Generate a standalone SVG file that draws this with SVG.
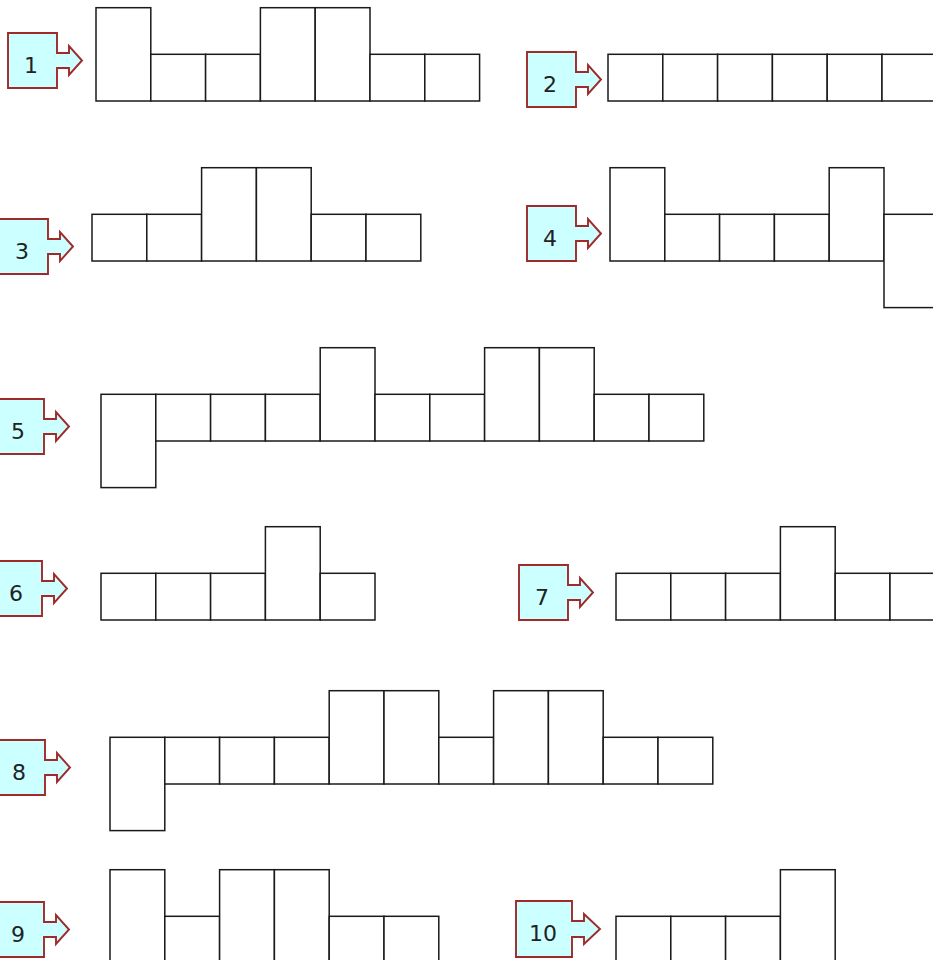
<svg xmlns="http://www.w3.org/2000/svg" xmlns:xlink="http://www.w3.org/1999/xlink" width="933" height="960" viewBox="0 0 933 960">
<style>
.c{fill:#ffffff;stroke:#1a1a1a;stroke-width:1.5}
.lb{fill:#ccffff;stroke:#9e2a2a;stroke-width:1.9;stroke-linejoin:miter}
.t{font-family:"DejaVu Sans","Liberation Sans",sans-serif;font-size:22px;fill:#222222;text-anchor:middle}
</style>
<defs>
<path id="lbl" class="lb" d="M0,0 H49 V20 H61 V13 L74,27.5 L61,42 V35 H49 V55 H0 Z"/>
<path id="lbl10" class="lb" d="M0,0 H56 V20 H68 V13 L84,28 L68,43 V36 H56 V56 H0 Z"/>
</defs>
<rect width="933" height="960" fill="#ffffff"/>
<g id="shape1">
<rect class="c" x="96" y="7.7" width="54.8" height="93.3"/>
<rect class="c" x="150.8" y="54.3" width="54.8" height="46.7"/>
<rect class="c" x="205.6" y="54.3" width="54.8" height="46.7"/>
<rect class="c" x="260.4" y="7.7" width="54.8" height="93.3"/>
<rect class="c" x="315.2" y="7.7" width="54.8" height="93.3"/>
<rect class="c" x="370" y="54.3" width="54.8" height="46.7"/>
<rect class="c" x="424.8" y="54.3" width="54.8" height="46.7"/>
</g>
<g id="shape2">
<rect class="c" x="608" y="54.3" width="54.8" height="46.7"/>
<rect class="c" x="662.8" y="54.3" width="54.8" height="46.7"/>
<rect class="c" x="717.6" y="54.3" width="54.8" height="46.7"/>
<rect class="c" x="772.4" y="54.3" width="54.8" height="46.7"/>
<rect class="c" x="827.2" y="54.3" width="54.8" height="46.7"/>
<rect class="c" x="882" y="54.3" width="54.8" height="46.7"/>
</g>
<g id="shape3">
<rect class="c" x="92" y="214.3" width="54.8" height="46.7"/>
<rect class="c" x="146.8" y="214.3" width="54.8" height="46.7"/>
<rect class="c" x="201.6" y="167.7" width="54.8" height="93.3"/>
<rect class="c" x="256.4" y="167.7" width="54.8" height="93.3"/>
<rect class="c" x="311.2" y="214.3" width="54.8" height="46.7"/>
<rect class="c" x="366" y="214.3" width="54.8" height="46.7"/>
</g>
<g id="shape4">
<rect class="c" x="610" y="167.7" width="54.8" height="93.3"/>
<rect class="c" x="664.8" y="214.3" width="54.8" height="46.7"/>
<rect class="c" x="719.6" y="214.3" width="54.8" height="46.7"/>
<rect class="c" x="774.4" y="214.3" width="54.8" height="46.7"/>
<rect class="c" x="829.2" y="167.7" width="54.8" height="93.3"/>
<rect class="c" x="884" y="214.3" width="54.8" height="93.3"/>
</g>
<g id="shape5">
<rect class="c" x="101" y="394.3" width="54.8" height="93.3"/>
<rect class="c" x="155.8" y="394.3" width="54.8" height="46.7"/>
<rect class="c" x="210.6" y="394.3" width="54.8" height="46.7"/>
<rect class="c" x="265.4" y="394.3" width="54.8" height="46.7"/>
<rect class="c" x="320.2" y="347.7" width="54.8" height="93.3"/>
<rect class="c" x="375" y="394.3" width="54.8" height="46.7"/>
<rect class="c" x="429.8" y="394.3" width="54.8" height="46.7"/>
<rect class="c" x="484.6" y="347.7" width="54.8" height="93.3"/>
<rect class="c" x="539.4" y="347.7" width="54.8" height="93.3"/>
<rect class="c" x="594.2" y="394.3" width="54.8" height="46.7"/>
<rect class="c" x="649" y="394.3" width="54.8" height="46.7"/>
</g>
<g id="shape6">
<rect class="c" x="101" y="573.3" width="54.8" height="46.7"/>
<rect class="c" x="155.8" y="573.3" width="54.8" height="46.7"/>
<rect class="c" x="210.6" y="573.3" width="54.8" height="46.7"/>
<rect class="c" x="265.4" y="526.7" width="54.8" height="93.3"/>
<rect class="c" x="320.2" y="573.3" width="54.8" height="46.7"/>
</g>
<g id="shape7">
<rect class="c" x="616" y="573.3" width="54.8" height="46.7"/>
<rect class="c" x="670.8" y="573.3" width="54.8" height="46.7"/>
<rect class="c" x="725.6" y="573.3" width="54.8" height="46.7"/>
<rect class="c" x="780.4" y="526.7" width="54.8" height="93.3"/>
<rect class="c" x="835.2" y="573.3" width="54.8" height="46.7"/>
<rect class="c" x="890" y="573.3" width="54.8" height="46.7"/>
</g>
<g id="shape8">
<rect class="c" x="110" y="737.3" width="54.8" height="93.3"/>
<rect class="c" x="164.8" y="737.3" width="54.8" height="46.7"/>
<rect class="c" x="219.6" y="737.3" width="54.8" height="46.7"/>
<rect class="c" x="274.4" y="737.3" width="54.8" height="46.7"/>
<rect class="c" x="329.2" y="690.7" width="54.8" height="93.3"/>
<rect class="c" x="384" y="690.7" width="54.8" height="93.3"/>
<rect class="c" x="438.8" y="737.3" width="54.8" height="46.7"/>
<rect class="c" x="493.6" y="690.7" width="54.8" height="93.3"/>
<rect class="c" x="548.4" y="690.7" width="54.8" height="93.3"/>
<rect class="c" x="603.2" y="737.3" width="54.8" height="46.7"/>
<rect class="c" x="658" y="737.3" width="54.8" height="46.7"/>
</g>
<g id="shape9">
<rect class="c" x="110" y="869.7" width="54.8" height="93.3"/>
<rect class="c" x="164.8" y="916.3" width="54.8" height="46.7"/>
<rect class="c" x="219.6" y="869.7" width="54.8" height="93.3"/>
<rect class="c" x="274.4" y="869.7" width="54.8" height="93.3"/>
<rect class="c" x="329.2" y="916.3" width="54.8" height="46.7"/>
<rect class="c" x="384" y="916.3" width="54.8" height="46.7"/>
</g>
<g id="shape10">
<rect class="c" x="616" y="916.3" width="54.8" height="46.7"/>
<rect class="c" x="670.8" y="916.3" width="54.8" height="46.7"/>
<rect class="c" x="725.6" y="916.3" width="54.8" height="46.7"/>
<rect class="c" x="780.4" y="869.7" width="54.8" height="93.3"/>
</g>
<g id="label1" transform="translate(8,33)"><use xlink:href="#lbl" href="#lbl"/><text class="t" x="23" y="40">1</text></g>
<g id="label2" transform="translate(527,52)"><use xlink:href="#lbl" href="#lbl"/><text class="t" x="23" y="40">2</text></g>
<g id="label3" transform="translate(-1,219)"><use xlink:href="#lbl" href="#lbl"/><text class="t" x="23" y="40">3</text></g>
<g id="label4" transform="translate(527,206)"><use xlink:href="#lbl" href="#lbl"/><text class="t" x="23" y="40">4</text></g>
<g id="label5" transform="translate(-5,399)"><use xlink:href="#lbl" href="#lbl"/><text class="t" x="23" y="40">5</text></g>
<g id="label6" transform="translate(-7,561)"><use xlink:href="#lbl" href="#lbl"/><text class="t" x="23" y="40">6</text></g>
<g id="label7" transform="translate(519,565)"><use xlink:href="#lbl" href="#lbl"/><text class="t" x="23" y="40">7</text></g>
<g id="label8" transform="translate(-4,740)"><use xlink:href="#lbl" href="#lbl"/><text class="t" x="23" y="40">8</text></g>
<g id="label9" transform="translate(-5,902)"><use xlink:href="#lbl" href="#lbl"/><text class="t" x="23" y="40">9</text></g>
<g id="label10" transform="translate(516,901)"><use xlink:href="#lbl10" href="#lbl10"/><text class="t" x="27" y="40">10</text></g>
<g id="connectors"/>
</svg>
